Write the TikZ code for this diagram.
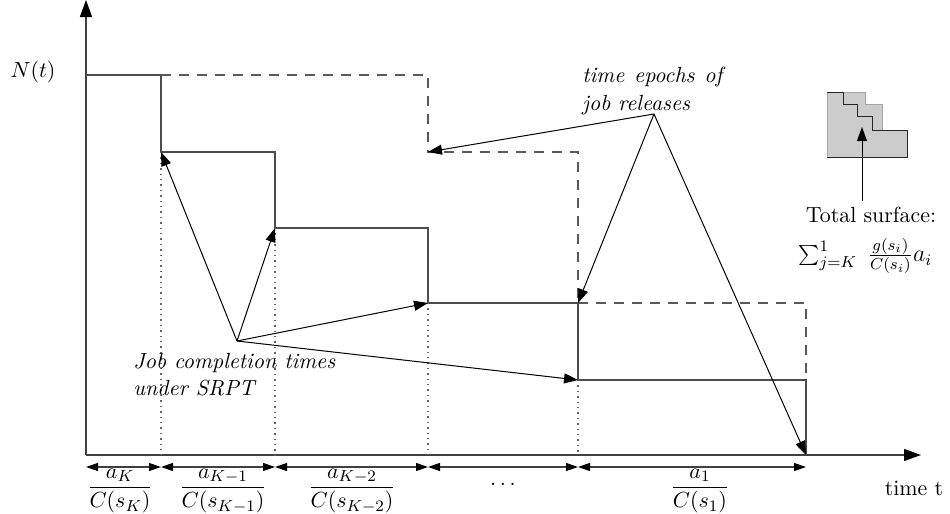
\documentclass[tikz,border=0pt,11pt]{standalone}
\usetikzlibrary{arrows.meta}

\begin{document}
\begin{tikzpicture}[x=0.5pt,y=-0.5pt,
  stepline/.style={black!70, line width=0.6pt},
  releaseline/.style={black!65, line width=0.6pt, dash pattern=on 5pt off 4pt},
  dropline/.style={black!60, dotted, line width=0.7pt},
  axisline/.style={black!75, line width=0.6pt, -{Triangle[length=8.5pt,width=6pt,color=black]}},
  pointer/.style={black, line width=0.5pt, -{Triangle[length=7pt,width=5pt]}},
  span/.style={black!75, line width=0.6pt, {Triangle[length=6pt,width=4pt,color=black]}-{Triangle[length=6pt,width=4pt,color=black]}}]
\useasboundingbox (0,0) rectangle (950,514);
% axes
\coordinate (o) at (86,455);
\coordinate (ytip) at (86,0);
\coordinate (xtip) at (921,455);
\draw [axisline] (o) -- (ytip);
\draw [axisline] (o) -- (xtip);
\node (nt) at (33,72) {$N(t)$};
\node (tt) at (914,488) {time t};
% queue length under SRPT
\coordinate (c0) at (86,75);
\coordinate (c1) at (161,75);
\coordinate (c2) at (161,152);
\coordinate (c3) at (275,152);
\coordinate (c4) at (275,228);
\coordinate (c5) at (428,228);
\coordinate (c6) at (428,303);
\coordinate (c7) at (578,303);
\coordinate (c8) at (578,380);
\coordinate (c9) at (806,380);
\coordinate (c10) at (806,455);
\draw [stepline] (c0) -- (c1) -- (c2) -- (c3) -- (c4) -- (c5) -- (c6) -- (c7) -- (c8) -- (c9) -- (c10);
% releases
\coordinate (d1) at (428,75);
\coordinate (d2) at (428,152);
\coordinate (d3) at (578,152);
\coordinate (d4) at (806,303);
\draw [releaseline] (c1) -- (d1) -- (d2) -- (d3) -- (c7);
\draw [releaseline] (c7) -- (d4) -- (c9);
% completion instants
\coordinate (f1) at (161,455);
\coordinate (f2) at (275,455);
\coordinate (f3) at (428,455);
\coordinate (f4) at (578,455);
\draw [dropline] (c2) -- (f1);
\draw [dropline] (c4) -- (f2);
\draw [dropline] (c6) -- (f3);
\draw [dropline] (c8) -- (f4);
% annotations
\coordinate (jc) at (237,341);
\coordinate (rel) at (654,114);
\node (jctext) at (133,353) [anchor=north west, align=left, font=\itshape, inner sep=0pt] {Job completion times\\under SRPT};
\node (reltext) at (582,67) [anchor=north west, text width=70pt, align=justify, font=\itshape, inner sep=0pt] {time epochs of job releases};
\draw [pointer] (jc) -- (c2);
\draw [pointer] (jc) -- (c4);
\draw [pointer] (jc) -- (c6);
\draw [pointer] (jc) -- (c8);
\draw [pointer] (rel) -- (d2);
\draw [pointer] (rel) -- (c7);
\draw [pointer] (rel) -- (c10);
% service intervals
\coordinate (b0) at (86,467);
\coordinate (b1) at (161,467);
\coordinate (b2) at (275,467);
\coordinate (b3) at (428,467);
\coordinate (b4) at (578,467);
\coordinate (b5) at (806,467);
\draw [span] (b0) -- (b1);
\draw [span] (b1) -- (b2);
\draw [span] (b2) -- (b3);
\draw [span] (b3) -- (b4);
\draw [span] (b4) -- (b5);
\node (lk) at (120,491) {$\displaystyle\frac{a_K}{C(s_K)}$};
\node (lk1) at (223,491) {$\displaystyle\frac{a_{K-1}}{C(s_{K-1})}$};
\node (lk2) at (352,491) {$\displaystyle\frac{a_{K-2}}{C(s_{K-2})}$};
\node (ldots) at (503,484) {$\ldots$};
\node (l1) at (700,491) {$\displaystyle\frac{a_1}{C(s_1)}$};
% surface icon
\fill [black!20] (827,92) -- (865,92) -- (865,104) -- (882,104) -- (882,130) -- (907,130) -- (907,157) -- (827,157) -- cycle;
\draw [black!35] (827,157) -- (827,92) -- (865,92) -- (865,104) -- (882,104) -- (882,130);
\draw [black!85] (827,92) -- (843,92) -- (843,104) -- (857,104) -- (857,116) -- (872,116) -- (872,130) -- (907,130) -- (907,157) -- (827,157);
\coordinate (surftip) at (862,127);
\node (surf) at (871,215) {Total surface:};
\coordinate (surftail) at (862,201);
\draw [pointer] (surftail) -- (surftip);
\node (surfsum) at (798,256) [anchor=west, inner sep=0pt, font=\large] {$\sum_{j=K}^{1}\;\frac{g(s_i)}{C(s_i)}a_i$};
\end{tikzpicture}
\end{document}
